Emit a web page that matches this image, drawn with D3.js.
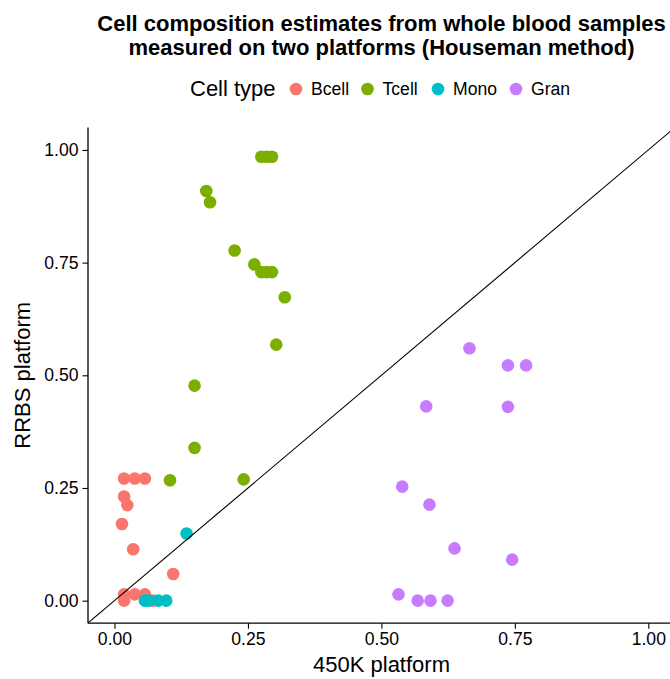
<!DOCTYPE html>
<html>
<head>
<meta charset="utf-8">
<script src="https://cdn.jsdelivr.net/npm/d3@7"></script>
<style>
  body { margin: 0; background: #fff; }
  text { font-family: "Liberation Sans", Arial, Helvetica, sans-serif; }
</style>
</head>
<body>
<div id="chart"></div>
<script>
// Cell types and their colours (ggplot default hues)
var cellTypes = ["Bcell", "Tcell", "Mono", "Gran"];
var cellColors = ["#F8766D", "#7CAE00", "#00BFC4", "#C77CFF"];

// Estimates: x = 450K platform, y = RRBS platform
var bcellX = [0.018, 0.038, 0.057, 0.018, 0.024, 0.014, 0.035, 0.110, 0.018, 0.038, 0.057, 0.018, 0.072];
var bcellY = [0.271, 0.271, 0.271, 0.231, 0.212, 0.170, 0.114, 0.059, 0.014, 0.014, 0.014, 0.000, 0.000];

var tcellX = [0.275, 0.285, 0.295, 0.172, 0.179, 0.225, 0.262, 0.275, 0.285, 0.295, 0.319, 0.303, 0.150, 0.150, 0.104, 0.242];
var tcellY = [0.985, 0.985, 0.985, 0.909, 0.884, 0.777, 0.746, 0.729, 0.729, 0.729, 0.673, 0.568, 0.477, 0.339, 0.267, 0.269];

var monoX = [0.135, 0.057, 0.064, 0.082, 0.097];
var monoY = [0.149, 0.000, 0.000, 0.000, 0.000];

var granX = [0.665, 0.737, 0.771, 0.584, 0.737, 0.539, 0.590, 0.637, 0.745, 0.532, 0.568, 0.592, 0.624];
var granY = [0.560, 0.522, 0.522, 0.431, 0.430, 0.253, 0.213, 0.116, 0.091, 0.014, 0.000, 0.000, 0.000];

var xTicks = [0, 0.25, 0.5, 0.75, 1];
var yTicks = [0, 0.25, 0.5, 0.75, 1];

var titleLines = ["Cell composition estimates from whole blood samples",
                  "measured on two platforms (Houseman method)"];

// page size and panel position
var W = 670, H = 679;
var panel = { left: 88, right: 675, top: 127.4, bottom: 623.2 };

var svg = d3.select("#chart").append("svg")
    .attr("width", W)
    .attr("height", H);

var x = d3.scaleLinear().domain([-0.05, 1.05]).range([panel.left - 0.2, panel.right]);
var y = d3.scaleLinear().domain([-0.05, 1.05]).range([panel.bottom, panel.top]);

var color = d3.scaleOrdinal().domain(cellTypes).range(cellColors);

// build rows in the order ggplot would draw them
var series = { Bcell: [bcellX, bcellY], Tcell: [tcellX, tcellY], Mono: [monoX, monoY], Gran: [granX, granY] };
var rows = [];
cellTypes.forEach(function (t) {
    series[t][0].forEach(function (v, i) {
        rows.push({ type: t, x: v, y: series[t][1][i] });
    });
});

// clip for the panel
svg.append("clipPath").attr("id", "panel-clip")
    .append("rect")
    .attr("x", panel.left).attr("y", panel.top)
    .attr("width", panel.right - panel.left)
    .attr("height", panel.bottom - panel.top);

var plot = svg.append("g").attr("clip-path", "url(#panel-clip)");

plot.selectAll("circle")
    .data(rows)
    .enter().append("circle")
    .attr("cx", function (d) { return x(d.x); })
    .attr("cy", function (d) { return y(d.y); })
    .attr("r", 6.3)
    .style("fill", function (d) { return color(d.type); });

// identity line on top of points
plot.append("line")
    .attr("x1", x(-0.05)).attr("y1", y(-0.05))
    .attr("x2", x(1.05)).attr("y2", y(1.05))
    .style("stroke", "#000")
    .style("stroke-width", 1.1);

// axes
var xAxis = svg.append("g")
    .attr("transform", "translate(0," + panel.bottom + ")")
    .call(d3.axisBottom(x).tickValues(xTicks).tickFormat(d3.format(".2f")).tickSizeOuter(0).tickSize(5.5).tickPadding(4));

var yAxis = svg.append("g")
    .attr("transform", "translate(" + panel.left + ",0)")
    .call(d3.axisLeft(y).tickValues(yTicks).tickFormat(d3.format(".2f")).tickSizeOuter(0).tickSize(5.5).tickPadding(4));

[xAxis, yAxis].forEach(function (a) {
    a.select(".domain").remove();
    a.selectAll(".tick line").style("stroke", "#000").style("stroke-width", 1.1);
    a.selectAll(".tick text")
        .style("font-size", "17.6px")
        .style("fill", "#000")
        .style("font-family", "'Liberation Sans', Arial, sans-serif");
});

// axis lines (ggplot theme_classic style)
svg.append("line")
    .attr("x1", panel.left).attr("x2", panel.right + 5)
    .attr("y1", panel.bottom).attr("y2", panel.bottom)
    .style("stroke", "#000").style("stroke-width", 1.3);
svg.append("line")
    .attr("x1", panel.left).attr("x2", panel.left)
    .attr("y1", panel.top).attr("y2", panel.bottom)
    .style("stroke", "#000").style("stroke-width", 1.3);

// axis titles
svg.append("text")
    .attr("x", (panel.left + panel.right) / 2)
    .attr("y", 672)
    .style("text-anchor", "middle")
    .style("font-size", "22px")
    .text("450K platform");

svg.append("text")
    .attr("transform", "translate(30," + ((panel.top + panel.bottom) / 2) + ") rotate(-90)")
    .style("text-anchor", "middle")
    .style("font-size", "22px")
    .text("RRBS platform");

// title
svg.append("g").selectAll("text")
    .data(titleLines)
    .enter().append("text")
    .attr("x", (panel.left + panel.right) / 2)
    .attr("y", function (d, i) { return 31 + i * 24; })
    .style("text-anchor", "middle")
    .style("font-size", "22px")
    .style("font-weight", "bold")
    .text(function (d) { return d; });

// legend
var legend = svg.append("g");
legend.append("text")
    .attr("x", 190)
    .attr("y", 96)
    .style("font-size", "22px")
    .text("Cell type");

var keyX = [296, 367.5, 438, 516];
var items = legend.selectAll(".item")
    .data(cellTypes)
    .enter().append("g")
    .attr("class", "item")
    .attr("transform", function (d, i) { return "translate(" + keyX[i] + ",89)"; });

items.append("circle")
    .attr("r", 6.3)
    .style("fill", function (d) { return color(d); });

items.append("text")
    .attr("x", 15)
    .attr("y", 6.3)
    .style("font-size", "17.6px")
    .text(function (d) { return d; });
</script>
</body>
</html>
